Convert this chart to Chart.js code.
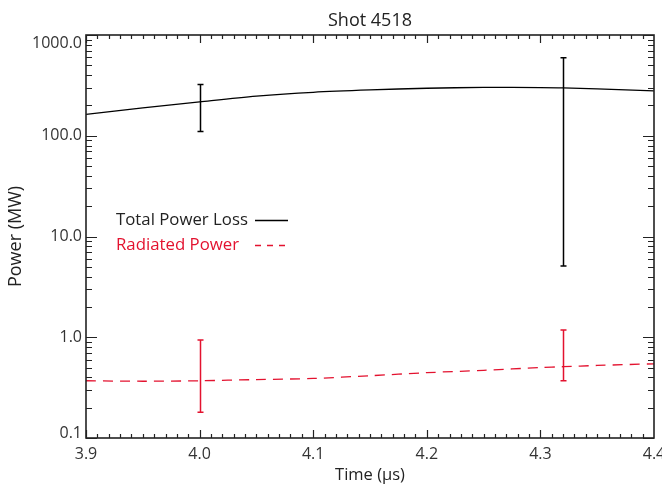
<!DOCTYPE html>
<html>
<head>
<meta charset="utf-8">
<script src="https://cdn.jsdelivr.net/npm/chart.js@4.4.1/dist/chart.umd.min.js"></script>
<style>
  html, body { margin: 0; padding: 0; background: #fff; }
</style>
</head>
<body>
<canvas id="c" width="662" height="485"></canvas>
<script>
// values
const times     = [3.90, 3.95, 4.00, 4.05, 4.10, 4.15, 4.20, 4.25, 4.30, 4.32, 4.35, 4.40];
const totalLoss = [163, 189, 217, 247, 270, 285, 296, 302, 301, 299, 292, 279];
const radiated  = [0.37, 0.366, 0.37, 0.38, 0.39, 0.415, 0.445, 0.47, 0.50, 0.51, 0.525, 0.545];

const errTimes  = [4.00, 4.32];
const totalLow  = [110, 5.1];
const totalHigh = [322, 596];
const radLow    = [0.18, 0.37];
const radHigh   = [0.94, 1.18];

const xTicks = [3.9, 4.0, 4.1, 4.2, 4.3, 4.4];
const yTicks = [0.1, 1, 10, 100, 1000];

const RED = '#e3122f';
const INK = '#222';
const FONT = '"Open Sans", "Noto Sans", sans-serif';

const toPts = (xs, ys) => xs.map((x, i) => ({ x, y: ys[i] }));

const errorBarPlugin = {
  id: 'errorBars',
  afterDatasetsDraw(chart) {
    const { ctx, scales: { x, y } } = chart;
    const bars = [
      { lo: totalLow, hi: totalHigh, color: '#000' },
      { lo: radLow, hi: radHigh, color: RED }
    ];
    ctx.save();
    ctx.lineWidth = 1.5;
    for (const b of bars) {
      ctx.strokeStyle = b.color;
      errTimes.forEach((t, i) => {
        const px = Math.round(x.getPixelForValue(t)) + 0.5;
        const y1 = y.getPixelForValue(b.lo[i]);
        const y2 = y.getPixelForValue(b.hi[i]);
        ctx.beginPath();
        ctx.moveTo(px, y1); ctx.lineTo(px, y2);
        ctx.moveTo(px - 3, y1); ctx.lineTo(px + 3, y1);
        ctx.moveTo(px - 3, y2); ctx.lineTo(px + 3, y2);
        ctx.stroke();
      });
    }
    ctx.restore();
  }
};

const framePlugin = {
  id: 'frame',
  afterDraw(chart) {
    const { ctx, chartArea: a, scales: { x, y } } = chart;
    ctx.save();
    ctx.strokeStyle = INK;
    ctx.lineWidth = 1.6;
    ctx.strokeRect(a.left, a.top, a.right - a.left, a.bottom - a.top);

    // x ticks, inward on bottom and top
    ctx.lineWidth = 1.2;
    ctx.beginPath();
    for (let i = 0; i < xTicks.length - 1; i++) {
      for (let k = 0; k < 10; k++) {
        const px = Math.round(x.getPixelForValue(xTicks[i] + k * 0.01)) + 0.5;
        const len = k === 0 ? 8 : 4;
        ctx.moveTo(px, a.bottom); ctx.lineTo(px, a.bottom - len);
        ctx.moveTo(px, a.top); ctx.lineTo(px, a.top + len);
      }
    }
    // y ticks, inward on left and right
    yTicks.forEach((d, i) => {
      const mults = i < yTicks.length - 1 ? [1, 2, 3, 4, 5, 6, 7, 8, 9] : [1];
      for (const m of mults) {
        const py = Math.round(y.getPixelForValue(d * m)) + 0.5;
        const len = m === 1 ? 11 : 6;
        ctx.moveTo(a.left, py); ctx.lineTo(a.left + len, py);
        ctx.moveTo(a.right, py); ctx.lineTo(a.right - len, py);
      }
    });
    ctx.stroke();

    // tick labels
    ctx.fillStyle = '#333';
    ctx.font = '16px ' + FONT;
    ctx.textAlign = 'center';
    ctx.textBaseline = 'middle';
    for (const t of xTicks) {
      ctx.fillText(t.toFixed(1), x.getPixelForValue(t), a.bottom + 16);
    }
    ctx.textAlign = 'right';
    for (const d of yTicks) {
      let py = y.getPixelForValue(d);
      py = Math.min(Math.max(py, a.top + 8), a.bottom - 5);
      ctx.fillText(d.toFixed(1), a.left - 4, py);
    }

    // title
    ctx.fillStyle = INK;
    ctx.textAlign = 'center';
    ctx.font = '18px ' + FONT;
    ctx.fillText('Shot 4518', (a.left + a.right) / 2, 21);

    // legend
    ctx.font = '16.8px ' + FONT;
    ctx.textAlign = 'left';
    ctx.fillStyle = INK;
    ctx.fillText('Total Power Loss', 116, 220);
    ctx.fillStyle = RED;
    ctx.fillText('Radiated Power', 116, 245);
    ctx.lineWidth = 1.3;
    ctx.strokeStyle = '#000';
    ctx.beginPath(); ctx.moveTo(255, 220.5); ctx.lineTo(288, 220.5); ctx.stroke();
    ctx.strokeStyle = RED;
    ctx.setLineDash([6, 6]);
    ctx.beginPath(); ctx.moveTo(255, 245.5); ctx.lineTo(290, 245.5); ctx.stroke();
    ctx.restore();
  }
};

new Chart(document.getElementById('c'), {
  type: 'line',
  data: {
    datasets: [
      {
        label: 'Total Power Loss',
        data: toPts(times, totalLoss),
        borderColor: '#000',
        borderWidth: 1.3,
        pointRadius: 0,
        tension: 0.3,
        fill: false
      },
      {
        label: 'Radiated Power',
        data: toPts(times, radiated),
        borderColor: RED,
        borderWidth: 1.3,
        borderDash: [10, 7],
        pointRadius: 0,
        tension: 0.3,
        fill: false
      }
    ]
  },
  options: {
    responsive: false,
    animation: false,
    devicePixelRatio: 1,
    layout: { padding: { top: 35, right: 8, left: 0, bottom: 0 } },
    scales: {
      x: {
        type: 'linear',
        min: 3.9,
        max: 4.4,
        ticks: { display: false },
        grid: { display: false },
        border: { display: false },
        title: {
          display: true,
          text: 'Time (µs)',
          color: INK,
          font: { family: FONT, size: 16.5 },
          padding: { top: 0, bottom: 0 }
        },
        afterFit: s => { s.height = 47; }
      },
      y: {
        type: 'logarithmic',
        min: 0.1,
        max: 1000,
        ticks: { display: false },
        grid: { display: false },
        border: { display: false },
        title: {
          display: true,
          text: 'Power (MW)',
          color: INK,
          font: { family: FONT, size: 18 },
          padding: { top: 5, bottom: 0 }
        },
        afterFit: s => { s.width = 86; }
      }
    },
    plugins: {
      legend: { display: false },
      tooltip: { enabled: false }
    }
  },
  plugins: [errorBarPlugin, framePlugin]
});
</script>
</body>
</html>
